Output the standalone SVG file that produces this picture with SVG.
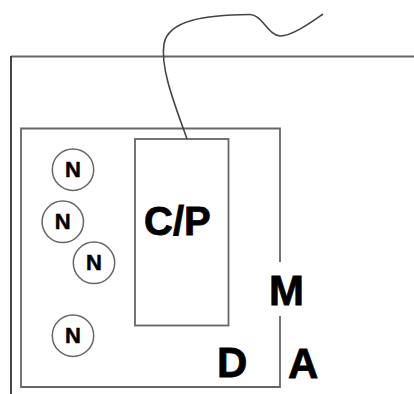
<svg xmlns="http://www.w3.org/2000/svg" width="414" height="394" viewBox="0 0 414 394">
<style>
.ln{fill:none;stroke:#666;stroke-width:1.8}
.cir{fill:#fff;stroke:#666;stroke-width:1.5}
.n{font-family:"Liberation Sans",Arial,sans-serif;font-weight:bold;font-size:22px;fill:#000;stroke:#000;stroke-width:0.5;text-anchor:middle}
.big{font-family:"Liberation Sans",Arial,sans-serif;font-weight:bold;font-size:42px;fill:#000;stroke:#000;stroke-width:0.8}
</style>
<rect width="414" height="394" fill="#fff"/>
<g id="frame">
<line x1="11" y1="56.5" x2="414" y2="56.5" class="ln"/>
<line x1="11" y1="56" x2="11" y2="394" class="ln" style="stroke:#333"/>
</g>
<g id="D">
<path d="M280 262 V128.5 H21 V387 H280 V316" class="ln"/>
<text x="217" y="377" class="big">D</text>
</g>
<g id="CP">
<rect x="135" y="139" width="93.5" height="186.5" class="ln"/>
<text x="144" y="235" class="big" style="font-size:40px">C/P</text>
</g>
<g id="M"><text x="269" y="305" class="big">M</text></g>
<g id="A"><text x="288" y="377.5" class="big">A</text></g>
<g id="N1"><circle cx="73" cy="169.7" r="20.7" class="cir"/><text x="73" y="177.3" class="n">N</text></g>
<g id="N2"><circle cx="62.8" cy="221.8" r="20.7" class="cir"/><text x="62.8" y="229.4" class="n">N</text></g>
<g id="N3"><circle cx="94" cy="262.8" r="20.7" class="cir"/><text x="94" y="270.4" class="n">N</text></g>
<g id="N4"><circle cx="73" cy="335.7" r="20.7" class="cir"/><text x="73" y="343.3" class="n">N</text></g>
<g id="connectors">
<path d="M187 139 C175 105 160 68 164 44 C168 20 205 15 250 14.5 C262 14.5 268 35 280 36 C292 36 310 23 323 14" fill="none" stroke="#444" stroke-width="1.6"/>
</g>
</svg>
